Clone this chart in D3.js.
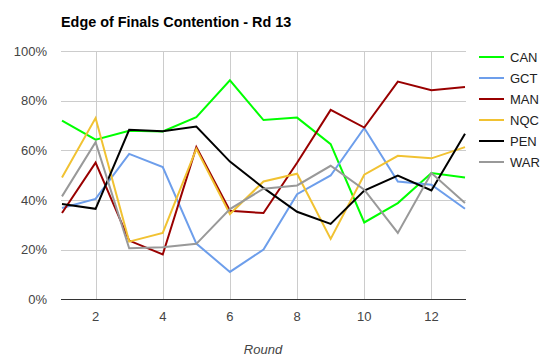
<!DOCTYPE html>
<html>
<head>
<meta charset="utf-8">
<script src="https://cdn.jsdelivr.net/npm/d3@7"></script>
<style>
  body { margin: 0; background: #fff; }
  text { font-family: Arial, "Liberation Sans", sans-serif; }
</style>
</head>
<body>
<div id="chart"></div>
<script>
// rounds and each team's finals chance (%)
const rounds = [1, 2, 3, 4, 5, 6, 7, 8, 9, 10, 11, 12, 13];
const teams = ['CAN', 'GCT', 'MAN', 'NQC', 'PEN', 'WAR'];
const teamColors = ['#00ff00', '#6d9eeb', '#990000', '#f1c232', '#000000', '#999999'];
const CAN = [72, 64.3, 67.9, 67.6, 73.4, 88.2, 72.2, 73.2, 62.5, 31, 38.8, 50.9, 49.1];
const GCT = [36.8, 40.5, 58.6, 53.3, 22.5, 11.1, 20.1, 42.4, 49.9, 69, 47.5, 46.2, 36.5];
const MAN = [34.8, 55.1, 23.7, 18.1, 61.3, 35.7, 34.8, 55, 76.3, 69.2, 87.7, 84.2, 85.5];
const NQC = [49.1, 73, 23.3, 26.8, 60.6, 34.4, 47.5, 50.6, 24.4, 50.2, 57.8, 56.8, 61.3];
const PEN = [38.4, 36.5, 68.3, 67.7, 69.6, 55.5, 44.9, 35.3, 30.4, 43.8, 49.9, 43.9, 66.7];
const WAR = [41.5, 63.3, 20.6, 21, 22.4, 36.4, 44.6, 45.9, 53.8, 44.2, 26.8, 50.9, 38.8];
const seriesValues = [CAN, GCT, MAN, NQC, PEN, WAR];
const yTicks = [0, 20, 40, 60, 80, 100];
const xTicks = [2, 4, 6, 8, 10, 12];

const width = 555, height = 362;
const margin = { top: 51, right: 90, bottom: 62, left: 61 };

const svg = d3.select('#chart')
    .append('svg')
    .attr('width', width)
    .attr('height', height);

const x = d3.scaleLinear().domain([1, 13]).range([margin.left + 1, width - margin.right]);
const y = d3.scaleLinear().domain([0, 100]).range([height - margin.bottom - 0.5, margin.top]);

// title
svg.append('text')
    .attr('x', 61)
    .attr('y', 27)
    .style('font-size', '14.4px')
    .style('font-weight', 'bold')
    .attr('fill', '#000')
    .text('Edge of Finals Contention - Rd 13');

// horizontal gridlines
svg.append('g')
    .selectAll('line')
    .data(yTicks.filter(d => d > 0))
    .enter()
    .append('line')
    .attr('x1', margin.left)
    .attr('x2', width - margin.right + 1)
    .attr('y1', d => Math.round(y(d)) + 0.5)
    .attr('y2', d => Math.round(y(d)) + 0.5)
    .attr('stroke', '#cccccc');

// vertical gridlines
svg.append('g')
    .selectAll('line')
    .data(xTicks)
    .enter()
    .append('line')
    .attr('x1', d => Math.round(x(d)) + 0.5)
    .attr('x2', d => Math.round(x(d)) + 0.5)
    .attr('y1', y(100))
    .attr('y2', y(0))
    .attr('stroke', '#cccccc');

// y tick labels
svg.append('g')
    .selectAll('text')
    .data(yTicks)
    .enter()
    .append('text')
    .attr('x', 47)
    .attr('y', d => y(d) + 4.5)
    .attr('text-anchor', 'end')
    .style('font-size', '13px')
    .attr('fill', '#444')
    .text(d => d + '%');

// x tick labels
svg.append('g')
    .selectAll('text')
    .data(xTicks)
    .enter()
    .append('text')
    .attr('x', d => x(d))
    .attr('y', 321)
    .attr('text-anchor', 'middle')
    .style('font-size', '13px')
    .attr('fill', '#444')
    .text(d => d);

// axis title
svg.append('text')
    .attr('x', (margin.left + width - margin.right) / 2)
    .attr('y', 354)
    .attr('text-anchor', 'middle')
    .style('font-size', '13px')
    .style('font-style', 'italic')
    .attr('fill', '#444')
    .text('Round');

// lines
const line = d3.line()
    .x((d, i) => x(rounds[i]))
    .y(d => y(d));

svg.append('g')
    .selectAll('path')
    .data(seriesValues)
    .enter()
    .append('path')
    .attr('d', line)
    .attr('fill', 'none')
    .attr('stroke', (d, i) => teamColors[i])
    .attr('stroke-width', 2)
    .attr('stroke-linejoin', 'miter');

// baseline
svg.append('line')
    .attr('x1', margin.left)
    .attr('x2', width - margin.right + 1)
    .attr('y1', y(0))
    .attr('y2', y(0))
    .attr('stroke', '#333')
    .attr('stroke-width', 1);

// legend
const legend = svg.append('g')
    .attr('transform', 'translate(479,57)');

const items = legend.selectAll('g')
    .data(teams)
    .enter()
    .append('g')
    .attr('transform', (d, i) => `translate(0,${i * 21})`);

items.append('line')
    .attr('x1', 0)
    .attr('x2', 25)
    .attr('y1', 0)
    .attr('y2', 0)
    .attr('stroke', (d, i) => teamColors[i])
    .attr('stroke-width', 2);

items.append('text')
    .attr('x', 31)
    .attr('y', 4.5)
    .style('font-size', '13px')
    .attr('fill', '#222')
    .text(d => d);
</script>
</body>
</html>
